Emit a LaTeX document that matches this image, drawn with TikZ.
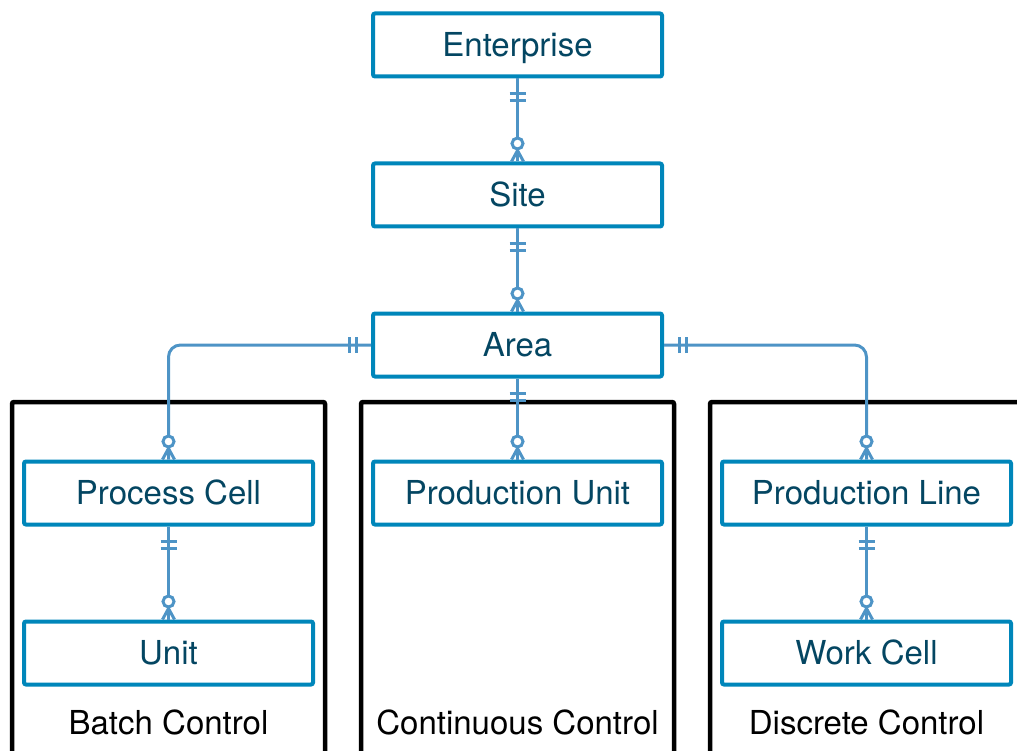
\documentclass[tikz,border=0pt]{standalone}
\usepackage{fontspec}
\setmainfont{TeX Gyre Heros}
\usetikzlibrary{positioning,decorations.markings}

\definecolor{boxblue}{RGB}{0,134,186}
\definecolor{linkblue}{RGB}{78,148,198}
\definecolor{textteal}{RGB}{4,70,98}

\begin{document}
\begin{tikzpicture}
	[
	  x=1pt, y=-1pt,
	  node distance=83pt and 56pt,
	  entity/.style={draw=boxblue, line width=4pt, rounded corners=2pt, fill=white,
	    minimum width=289pt, minimum height=63pt, inner sep=0pt,
	    font=\fontsize{33}{40}\selectfont, text=textteal,
	    text height=23.7pt, text depth=0pt},
	  group/.style={draw=black, line width=4.5pt, rounded corners=2pt},
	  caption/.style={font=\fontsize{33}{40}\selectfont, anchor=base},
	  linkmark/.style={draw=linkblue, line width=3pt, sharp corners},
	  link/.style={draw=linkblue, line width=3pt, rounded corners=12pt,
	    postaction={decorate, decoration={markings,
	      mark=at position 15pt with {\draw[linkmark] (0,-8pt) -- (0,8pt);},
	      mark=at position 22pt with {\draw[linkmark] (0,-8pt) -- (0,8pt);},
	      mark=at position -18pt with {\draw[linkmark, fill=white] (0,0) circle (5.5pt);},
	      mark=at position 1 with {\draw[linkmark] (0,-6pt) -- (-11pt,0) -- (0,6pt);}}}},
	]
	\useasboundingbox (0,0) rectangle (1017,751);
	% control groups
	\draw [group] (12,402) rectangle (325,800);
	\draw [group] (361,402) rectangle (674,800);
	\draw [group] (710,402) rectangle (1040,800);
	\node (batch) [caption] at (168.5,734) {Batch Control};
	\node (continuous) [caption] at (517.5,734) {Continuous Control};
	\node (discrete) [caption] at (866.5,734) {Discrete Control};
	% entities
	\node (enterprise) [entity] at (517.5,45) {Enterprise};
	\node (site) [entity, below=of enterprise] {Site};
	\node (area) [entity, below=of site] {Area};
	\node (produnit) [entity, below=81pt of area] {Production Unit};
	\node (proccell) [entity, left=of produnit] {Process Cell};
	\node (prodline) [entity, right=of produnit] {Production Line};
	\node (unit) [entity, below=93pt of proccell] {Unit};
	\node (workcell) [entity, below=93pt of prodline] {Work Cell};
	% relations
	\draw [link] (enterprise) -- (site);
	\draw [link] (site) -- (area);
	\draw [link] (area) -- (produnit);
	\draw [link] (area) -| (proccell);
	\draw [link] (area) -| (prodline);
	\draw [link] (proccell) -- (unit);
	\draw [link] (prodline) -- (workcell);
\end{tikzpicture}
\end{document}
